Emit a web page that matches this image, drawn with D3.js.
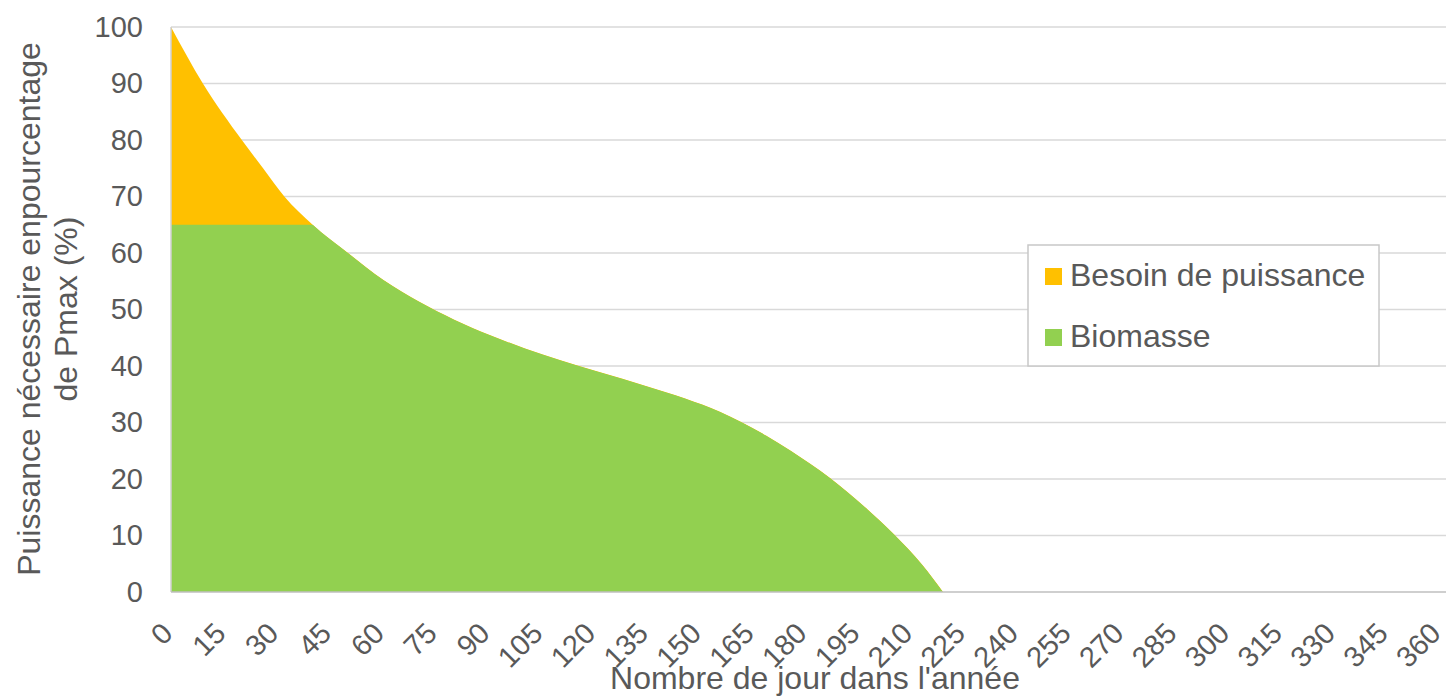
<!DOCTYPE html>
<html>
<head>
<meta charset="utf-8">
<script src="https://cdn.jsdelivr.net/npm/d3@7/dist/d3.min.js"></script>
<style>
  html, body { margin: 0; padding: 0; background: #ffffff; }
  svg { display: block; font-family: "Liberation Sans", Arial, sans-serif; }
</style>
</head>
<body>
<svg id="chart" width="1447" height="696"></svg>
<script>
// Load-duration curve: share of peak power needed, sorted by number of days
const days     = [0, 9, 20, 26, 32, 40, 50, 60, 70, 80, 90, 100, 110, 120, 135, 145, 155, 161, 168, 175, 186, 196, 204, 212, 218];
const besoin   = [100, 90, 80, 75, 70, 65, 60, 55.2, 51.4, 48.2, 45.5, 43.1, 41.0, 39.1, 36.3, 34.3, 31.9, 30.1, 27.7, 25.0, 20.2, 15.0, 10.3, 4.9, 0];
const biomasse = [65, 65, 65, 65, 65, 65, 60, 55.2, 51.4, 48.2, 45.5, 43.1, 41.0, 39.1, 36.3, 34.3, 31.9, 30.1, 27.7, 25.0, 20.2, 15.0, 10.3, 4.9, 0];

const seriesNames  = ["Besoin de puissance", "Biomasse"];
const seriesColors = ["#FFC000", "#92D050"];

const xTicks = d3.range(0, 361, 15);
const yTicks = d3.range(0, 101, 10);

const xTitle = "Nombre de jour dans l'année";
const yTitleLines = ["Puissance nécessaire enpourcentage", "de Pmax (%)"];

const svg = d3.select("#chart");
const margin = { left: 171, right: 1, top: 27, bottom: 104 };
const W = 1447, H = 696;

const x = d3.scaleLinear().domain([0, 360]).range([margin.left, W - margin.right]);
const y = d3.scaleLinear().domain([0, 100]).range([H - margin.bottom, margin.top]);

const textColor = "#595959";

// horizontal gridlines
svg.append("g")
  .selectAll("line")
  .data(yTicks.filter(d => d > 0))
  .join("line")
  .attr("x1", x(0)).attr("x2", x(360))
  .attr("y1", d => y(d)).attr("y2", d => y(d))
  .attr("stroke", "#d9d9d9").attr("stroke-width", 1.5);

// areas
const toPoints = vals => days.map((d, i) => ({ d, v: vals[i] }));
const area = d3.area()
  .x(p => x(p.d))
  .y0(y(0))
  .y1(p => y(p.v))
  .curve(d3.curveMonotoneX);

// the biomass share can never exceed the demand curve
svg.append("clipPath").attr("id", "under-demand")
  .append("path").attr("d", area(toPoints(besoin)));

svg.append("path")
  .attr("d", area(toPoints(besoin)))
  .attr("fill", seriesColors[0]);

svg.append("path")
  .attr("d", area(toPoints(biomasse)))
  .attr("fill", seriesColors[1])
  .attr("clip-path", "url(#under-demand)");

// axis lines
svg.append("line")
  .attr("x1", x(0)).attr("x2", x(0))
  .attr("y1", y(100)).attr("y2", y(0))
  .attr("stroke", "#d0d0d0").attr("stroke-width", 1.5);
svg.append("line")
  .attr("x1", x(0)).attr("x2", x(360))
  .attr("y1", y(0)).attr("y2", y(0))
  .attr("stroke", "#bfbfbf").attr("stroke-width", 1.5);

// y tick labels
const yAxis = d3.axisLeft(y).tickValues(yTicks).tickSize(0).tickPadding(28);
const gy = svg.append("g").attr("transform", `translate(${x(0)},0)`).call(yAxis);
gy.select(".domain").remove();
gy.selectAll("text")
  .attr("fill", textColor)
  .style("font-size", "29px")
  .style("font-family", "'Liberation Sans', Arial, sans-serif");

// x tick labels, rotated; label ends drift slightly left across the axis
const xAxis = d3.axisBottom(x).tickValues(xTicks).tickSize(0).tickFormat(d3.format("d"));
const gx = svg.append("g").attr("transform", `translate(0,${y(0)})`).call(xAxis);
gx.select(".domain").remove();
gx.selectAll("text")
  .attr("fill", textColor)
  .style("font-size", "29px")
  .style("font-family", "'Liberation Sans', Arial, sans-serif")
  .attr("text-anchor", "end")
  .attr("dy", "0")
  .attr("y", 0)
  .attr("transform", d => `translate(${3 - 7 * d / 360},43) rotate(-45)`);

// axis titles
svg.append("text")
  .attr("x", 815).attr("y", 689)
  .attr("text-anchor", "middle")
  .attr("fill", textColor)
  .style("font-size", "32px")
  .text(xTitle);

const yTitle = svg.append("text")
  .attr("transform", "translate(0,309) rotate(-90)")
  .attr("text-anchor", "middle")
  .attr("fill", textColor)
  .style("font-size", "32px");
yTitleLines.forEach((line, i) => {
  yTitle.append("tspan").attr("x", 0).attr("y", 40 + i * 37).text(line);
});

// legend
const legend = svg.append("g").attr("transform", "translate(1028,245)");
legend.append("rect")
  .attr("width", 351).attr("height", 121)
  .attr("fill", "#ffffff")
  .attr("stroke", "#c8c8c8").attr("stroke-width", 1.5);
const items = legend.selectAll("g.item")
  .data(seriesNames)
  .join("g")
  .attr("class", "item")
  .attr("transform", (d, i) => `translate(17,${23 + i * 61})`);
items.append("rect")
  .attr("width", 17).attr("height", 17)
  .attr("fill", (d, i) => seriesColors[i]);
items.append("text")
  .attr("x", 25).attr("y", 18)
  .attr("fill", textColor)
  .style("font-size", "32px")
  .text(d => d);
</script>
</body>
</html>
